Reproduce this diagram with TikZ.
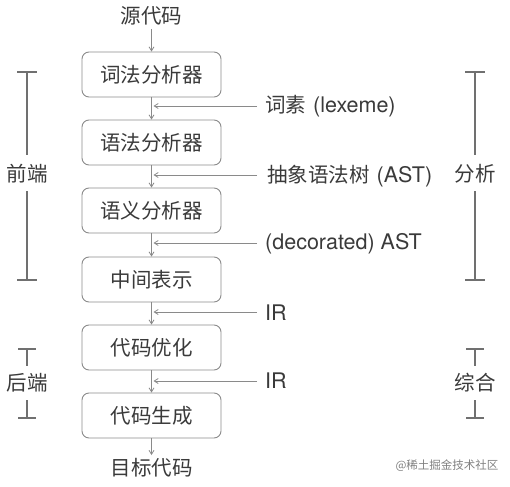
\documentclass[tikz,border=0pt]{standalone}
\usepackage{fontspec}
\setmainfont{TeX Gyre Heros}
\newfontfamily\cjk{Noto Sans CJK SC}
\usetikzlibrary{arrows.meta,positioning}
\usepackage{xcolor}

\definecolor{boxline}{HTML}{8A8A8A}
\definecolor{textgray}{HTML}{3A3A3A}
\definecolor{bargray}{HTML}{707070}

\newcommand{\latin}{\fontsize{21.5}{23}\selectfont\rmfamily}

\begin{document}
\begin{tikzpicture}[x=1pt, y=-1pt,
    every node/.style={text=textgray, font=\fontsize{20.5}{23}\selectfont\cjk},
    stagebox/.style={
        rectangle,
        rounded corners=7pt,
        draw=boxline,
        line width=0.9pt,
        minimum width=139pt,
        minimum height=45pt,
        inner sep=0pt
    },
    flow/.style={-{Straight Barb[length=4pt,width=5pt]}, boxline, line width=0.8pt},
    sideflow/.style={flow, shorten >=2pt},
    sidetext/.style={anchor=west, inner sep=0pt},
    bar/.style={bargray, line width=2.4pt}
]
    \useasboundingbox (0, 0) rectangle (510, 486);

    % stages
    \node (source) at (151.5, 16) {源代码};
    \node (lexer) [stagebox] at (151.5, 74.5) {词法分析器};
    \node (parser) [stagebox] at (151.5, 142.5) {语法分析器};
    \node (semantic) [stagebox] at (151.5, 210.5) {语义分析器};
    \node (ir) [stagebox] at (151.5, 279.5) {中间表示};
    \node (optimize) [stagebox] at (151.5, 347.5) {代码优化};
    \node (codegen) [stagebox] at (151.5, 415.5) {代码生成};
    \node (target) at (151.5, 468) {目标代码};

    \draw[flow] (source) -- (lexer);
    \draw[flow] (lexer) -- (parser);
    \draw[flow] (parser) -- (semantic);
    \draw[flow] (semantic) -- (ir);
    \draw[flow] (ir) -- (optimize);
    \draw[flow] (optimize) -- (codegen);
    \draw[flow] (codegen) -- (target);

    % intermediate results
    \node (lexeme) [sidetext] at (265, 106) {词素\hspace{7pt}\latin(lexeme)};
    \node (ast) [sidetext] at (267, 176) {抽象语法树\hspace{7pt}\latin(AST)};
    \node (decorated) [sidetext] at (265, 244) {\latin(decorated) AST};
    \node (irone) [sidetext] at (265, 313) {\latin IR};
    \node (irtwo) [sidetext] at (265, 381) {\latin IR};

    \coordinate (lexeme_from) at (257, 106);
    \coordinate (ast_from) at (257, 175);
    \coordinate (decorated_from) at (257, 243);
    \coordinate (irone_from) at (257, 312);
    \coordinate (irtwo_from) at (257, 381);
    \draw[sideflow] (lexeme_from) -- (lexeme_from -| lexer.south);
    \draw[sideflow] (ast_from) -- (ast_from -| lexer.south);
    \draw[sideflow] (decorated_from) -- (decorated_from -| lexer.south);
    \draw[sideflow] (irone_from) -- (irone_from -| lexer.south);
    \draw[sideflow] (irtwo_from) -- (irtwo_from -| lexer.south);

    % phases
    \node (frontend) at (27, 174) {前端};
    \node (backend) at (27, 383) {后端};
    \node (analysis) at (475, 174) {分析};
    \node (synthesis) at (475, 383) {综合};

    \coordinate (frontend_top) at (27, 72);
    \coordinate (frontend_bottom) at (27, 280);
    \coordinate (backend_top) at (27, 349);
    \coordinate (backend_bottom) at (27, 418);
    \coordinate (analysis_top) at (475, 72);
    \coordinate (analysis_bottom) at (475, 280);
    \coordinate (synthesis_top) at (475, 349);
    \coordinate (synthesis_bottom) at (475, 418);

    \draw[bar] ([xshift=-10pt]frontend_top) -- ([xshift=10pt]frontend_top);
    \draw[bar] (frontend_top) -- (27, 155);
    \draw[bar] (27, 191) -- (frontend_bottom);
    \draw[bar] ([xshift=-10pt]frontend_bottom) -- ([xshift=10pt]frontend_bottom);

    \draw[bar] ([xshift=-10pt]analysis_top) -- ([xshift=10pt]analysis_top);
    \draw[bar] (analysis_top) -- (475, 155);
    \draw[bar] (475, 191) -- (analysis_bottom);
    \draw[bar] ([xshift=-10pt]analysis_bottom) -- ([xshift=10pt]analysis_bottom);

    \draw[bar] ([xshift=-9pt]backend_top) -- ([xshift=9pt]backend_top);
    \draw[bar] (backend_top) -- (27, 366);
    \draw[bar] (27, 400) -- (backend_bottom);
    \draw[bar] ([xshift=-9pt]backend_bottom) -- ([xshift=9pt]backend_bottom);

    \draw[bar] ([xshift=-9pt]synthesis_top) -- ([xshift=9pt]synthesis_top);
    \draw[bar] (synthesis_top) -- (475, 366);
    \draw[bar] (475, 400) -- (synthesis_bottom);
    \draw[bar] ([xshift=-9pt]synthesis_bottom) -- ([xshift=9pt]synthesis_bottom);

    % watermark
    \node (mark) [text=gray, font=\fontsize{11.5}{13}\selectfont\cjk] at (447, 466) {@稀土掘金技术社区};
\end{tikzpicture}
\end{document}
